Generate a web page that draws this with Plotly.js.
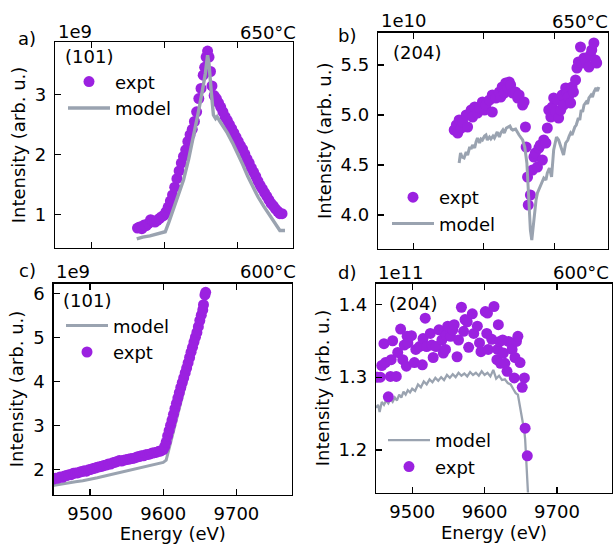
<!DOCTYPE html>
<html>
<head>
<meta charset="utf-8">
<script src="https://cdn.plot.ly/plotly-3.0.1.min.js"></script>
<style>html,body{margin:0;padding:0;background:#fff;}#chart{width:615px;height:544px;}</style>
</head>
<body>
<div id="chart"></div>
<script>
// ---------- data (intensities in units of the axis multiplier shown on each panel) ----------
// Panel a: (101), 650 C, x1e9
const aExptE = [9563,9566,9569,9572,9575,9578,9581,9584,9587,9590,9593,9596,9599,9602,9605,9608,9611,9614,9617,9620,9623,9626,9629,9632,9635,9638,9641,9644,9647,9650,9653,9655,9657,9659,9661,9663,9665,9668,9671,9674,9677,9680,9683,9686,9689,9692,9695,9698,9701,9704,9707,9710,9713,9716,9719,9722,9725,9728,9731,9734,9737,9740,9743,9746,9749,9752,9755,9758,9761];
const aExptI = [0.78,0.80,0.77,0.83,0.82,0.86,0.92,0.90,0.88,0.91,0.94,0.97,0.99,1.05,1.13,1.23,1.33,1.46,1.60,1.73,1.86,1.97,2.08,2.22,2.33,2.42,2.55,2.71,2.93,3.10,3.32,3.45,3.62,3.72,3.62,3.38,3.14,2.98,2.93,2.86,2.79,2.71,2.63,2.57,2.50,2.43,2.36,2.29,2.22,2.15,2.09,2.01,1.93,1.86,1.78,1.71,1.64,1.56,1.49,1.43,1.37,1.31,1.25,1.19,1.15,1.10,1.06,1.02,1.02];
const aModelE = [9562,9570,9580,9590,9598,9601,9606,9612,9619,9626,9633,9640,9646,9652,9656,9659,9661,9664,9667,9670,9672,9676,9681,9686,9693,9700,9707,9714,9721,9728,9736,9744,9752,9758,9765];
const aModelI = [0.60,0.63,0.65,0.68,0.70,0.72,0.88,1.08,1.32,1.58,1.92,2.30,2.68,3.07,3.35,3.65,3.50,3.05,2.66,2.60,2.63,2.55,2.46,2.36,2.20,2.03,1.84,1.64,1.46,1.30,1.14,1.00,0.86,0.74,0.74];

// Panel b: (204), 650 C, x1e10
const bExptE = [9558,9561,9563,9565,9568,9570,9575,9577,9582,9584,9587,9591,9594,9598,9601,9603,9608,9612,9612,9617,9622,9624,9626,9629,9631,9634,9636,9638,9641,9645,9648,9650,9655,9657,9659,9660,9662,9663,9666,9669,9671,9673,9676,9678,9680,9683,9685,9688,9690,9692,9695,9697,9699,9702,9704,9706,9709,9711,9713,9716,9718,9720,9723,9725,9727,9730,9732,9734,9737,9739,9742,9744,9749,9751,9753,9756,9758,9760];
const bExptI = [4.85,4.90,4.82,4.95,4.87,4.93,5.00,4.88,5.05,4.98,5.08,5.02,5.07,5.13,5.05,5.10,5.15,5.03,5.20,5.17,5.23,5.18,5.28,5.22,5.32,5.27,5.33,5.30,5.22,5.23,5.17,5.20,5.10,5.13,4.88,4.68,4.38,4.10,4.20,4.45,4.58,4.62,4.48,4.67,4.70,4.55,4.75,4.72,4.87,5.05,4.98,5.08,5.17,5.03,5.15,4.97,5.05,5.20,5.10,5.27,5.22,5.18,5.12,5.28,5.23,5.35,5.47,5.53,5.68,5.52,5.57,5.55,5.48,5.60,5.65,5.72,5.55,5.52];
const bModelE = [9565,9567,9569,9572,9575,9577,9580,9582,9584,9587,9589,9591,9594,9596,9598,9601,9603,9605,9608,9610,9613,9615,9617,9619,9622,9624,9627,9629,9632,9634,9637,9639,9641,9645,9648,9650,9653,9655,9658,9661,9664,9666,9668,9670,9672,9674,9676,9680,9683,9685,9688,9690,9693,9696,9699,9701,9703,9706,9708,9710,9713,9716,9719,9721,9723,9725,9727,9729,9731,9734,9736,9738,9740,9742,9745,9747,9749,9752,9754,9756,9759,9761,9763];
const bModelI = [4.52,4.62,4.58,4.57,4.63,4.60,4.68,4.66,4.70,4.67,4.73,4.77,4.72,4.76,4.75,4.79,4.80,4.75,4.78,4.76,4.79,4.77,4.80,4.83,4.78,4.82,4.85,4.82,4.87,4.88,4.89,4.86,4.85,4.86,4.82,4.80,4.77,4.75,4.68,4.52,4.12,3.85,3.75,3.88,4.08,4.15,4.22,4.28,4.33,4.37,4.35,4.42,4.47,4.38,4.65,4.72,4.78,4.75,4.70,4.67,4.60,4.72,4.75,4.79,4.82,4.80,4.85,4.88,4.90,4.97,4.95,5.05,5.03,5.10,5.13,5.11,5.17,5.20,5.18,5.23,5.27,5.24,5.28];

// Panel c: (101), 600 C, x1e9
const cExptE = [9444,9447,9450,9453,9456,9459,9462,9465,9468,9471,9474,9477,9480,9483,9486,9489,9492,9495,9498,9501,9504,9507,9510,9513,9516,9519,9522,9525,9528,9531,9534,9537,9540,9543,9546,9549,9552,9555,9558,9561,9564,9567,9570,9573,9576,9579,9582,9585,9588,9591,9594,9597,9600,9602,9604,9606,9608,9610,9612,9614,9616,9618,9620,9622,9624,9626,9628,9630,9632,9634,9636,9638,9640,9642,9644,9646,9648,9650,9652,9654,9655,9657,9658];
const cExptI = [1.75,1.77,1.78,1.80,1.80,1.83,1.82,1.85,1.86,1.88,1.88,1.91,1.92,1.92,1.94,1.95,1.97,1.96,1.99,2.00,2.02,2.03,2.05,2.06,2.07,2.09,2.10,2.12,2.12,2.15,2.16,2.18,2.20,2.19,2.21,2.22,2.23,2.24,2.25,2.26,2.28,2.29,2.31,2.31,2.33,2.34,2.35,2.37,2.38,2.39,2.41,2.42,2.45,2.52,2.62,2.76,2.88,3.00,3.12,3.25,3.38,3.50,3.62,3.74,3.86,3.97,4.08,4.19,4.30,4.42,4.54,4.66,4.77,4.89,5.00,5.11,5.24,5.38,5.50,5.62,5.74,5.96,6.02];
const cModelE = [9440,9450,9460,9470,9480,9490,9500,9510,9520,9530,9540,9550,9560,9570,9580,9590,9600,9604,9610,9620,9630,9640,9650,9657];
const cModelI = [1.61,1.64,1.67,1.69,1.72,1.74,1.77,1.81,1.85,1.89,1.92,1.96,2.00,2.04,2.08,2.12,2.16,2.21,2.60,3.25,3.90,4.56,5.22,5.68];

// Panel d: (204), 600 C, x1e11
const dExptE = [9452,9456,9458,9461,9463,9467,9470,9471,9473,9478,9480,9484,9487,9489,9492,9493,9494,9499,9503,9505,9510,9514,9515,9518,9520,9525,9527,9529,9533,9537,9541,9543,9546,9547,9549,9553,9556,9558,9562,9564,9568,9571,9573,9576,9578,9583,9585,9590,9593,9595,9601,9603,9604,9605,9610,9613,9617,9618,9619,9621,9622,9625,9626,9628,9631,9633,9637,9638,9641,9642,9644,9646,9649,9652,9655,9656,9659];
const dExptI = [1.300,1.300,1.316,1.346,1.320,1.273,1.301,1.324,1.350,1.301,1.334,1.366,1.324,1.344,1.315,1.356,1.347,1.357,1.320,1.338,1.342,1.317,1.353,1.381,1.342,1.360,1.344,1.327,1.342,1.365,1.351,1.333,1.338,1.358,1.370,1.356,1.365,1.372,1.328,1.351,1.396,1.363,1.379,1.376,1.341,1.387,1.360,1.370,1.347,1.335,1.390,1.360,1.388,1.338,1.352,1.397,1.324,1.338,1.372,1.349,1.319,1.351,1.333,1.319,1.308,1.349,1.347,1.338,1.299,1.327,1.349,1.356,1.320,1.286,1.299,1.230,1.192];
const dModelE = [9450,9453,9455,9458,9461,9464,9467,9470,9473,9476,9479,9482,9485,9488,9491,9494,9497,9500,9504,9508,9512,9516,9520,9524,9528,9532,9536,9540,9544,9548,9552,9556,9560,9564,9568,9572,9576,9580,9584,9588,9592,9596,9600,9604,9608,9612,9616,9620,9624,9628,9632,9636,9640,9643,9646,9648,9650,9652,9654,9655,9656,9657,9658,9659,9660];
const dModelI = [1.258,1.262,1.252,1.266,1.262,1.268,1.264,1.270,1.266,1.272,1.268,1.276,1.272,1.280,1.276,1.282,1.279,1.284,1.281,1.290,1.286,1.294,1.290,1.297,1.293,1.299,1.295,1.300,1.296,1.303,1.299,1.304,1.300,1.306,1.302,1.305,1.301,1.307,1.303,1.306,1.302,1.308,1.303,1.306,1.301,1.310,1.298,1.302,1.296,1.297,1.292,1.290,1.283,1.278,1.276,1.265,1.250,1.240,1.232,1.225,1.215,1.200,1.185,1.165,1.140];

// tick labels
const energyTicks = [9500, 9600, 9700];
const aTicks = [1, 2, 3];
const bTicks = [4.0, 4.5, 5.0, 5.5];
const cTicks = [2, 3, 4, 5, 6];
const dTicks = [1.2, 1.3, 1.4];
const panelLabels = ['a)', 'b)', 'c)', 'd)'];
const multipliers = ['1e9', '1e10', '1e9', '1e11'];
const temps = ['650°C', '650°C', '600°C', '600°C'];
const reflections = ['(101)', '(204)', '(101)', '(204)'];

// ---------- styling ----------
const W = 615, H = 544;
const FONT = 'DejaVu Sans, Liberation Sans, sans-serif';
const EXPT = '#9b21e0';
const MODEL = '#9aa3b0';
const fx = p => p / W;
const fy = p => 1 - p / H;

function exptTrace(x, y, xa, ya, leg) {
  return {x: x, y: y, xaxis: xa, yaxis: ya, type: 'scatter', mode: 'markers', name: 'expt',
    legend: leg, marker: {color: EXPT, size: 11, line: {width: 0}}};
}
function modelTrace(x, y, xa, ya, leg, w) {
  return {x: x, y: y, xaxis: xa, yaxis: ya, type: 'scatter', mode: 'lines', name: 'model',
    legend: leg, line: {color: MODEL, width: w}};
}

const data = [
  exptTrace(aExptE, aExptI, 'x', 'y', 'legend'),
  modelTrace(aModelE, aModelI, 'x', 'y', 'legend', 3.4),
  exptTrace(bExptE, bExptI, 'x2', 'y2', 'legend2'),
  modelTrace(bModelE, bModelI, 'x2', 'y2', 'legend2', 3),
  modelTrace(cModelE, cModelI, 'x3', 'y3', 'legend3', 3),
  exptTrace(cExptE, cExptI, 'x3', 'y3', 'legend3'),
  modelTrace(dModelE, dModelI, 'x4', 'y4', 'legend4', 2.3),
  exptTrace(dExptE, dExptI, 'x4', 'y4', 'legend4')
];

const tickFont = {family: FONT, size: 18, color: '#000'};
function xAxis(dom, anchor, labels) {
  return {domain: [fx(dom[0]), fx(dom[1])], anchor: anchor, range: [9450, 9776],
    tickvals: energyTicks, showticklabels: labels, ticks: 'inside', ticklen: 6, tickwidth: 1.2,
    tickcolor: '#000', showline: true, linecolor: '#000', linewidth: 1.3, mirror: 'ticks',
    showgrid: false, zeroline: false, tickfont: tickFont, ticklabelstandoff: 3, automargin: false,
    title: labels ? {text: 'Energy (eV)', font: tickFont, standoff: 4} : {text: ''}};
}
function yAxis(dom, anchor, range, ticks, fmt, standoff) {
  return {domain: [fy(dom[1]), fy(dom[0])], anchor: anchor, range: range,
    tickvals: ticks, tickformat: fmt, ticks: 'inside', ticklen: 6, tickwidth: 1.2,
    tickcolor: '#000', showline: true, linecolor: '#000', linewidth: 1.3, mirror: true,
    showgrid: false, zeroline: false, tickfont: tickFont, ticklabelstandoff: 4, automargin: false,
    title: {text: 'Intensity (arb. u.)', font: tickFont, standoff: standoff}};
}

// panel boxes in pixels: [left, right], [top, bottom]
const boxA = [[55, 293], [42, 248]];
const boxB = [[378, 608], [32.5, 249]];
const boxC = [[53.5, 292], [283.5, 494.5]];
const boxD = [[376, 612], [283.5, 492.5]];

function legendAt(px, py, title) {
  const l = {x: fx(px), y: fy(py), xanchor: 'left', yanchor: 'top', bgcolor: 'rgba(0,0,0,0)',
    borderwidth: 0, font: {family: FONT, size: 18, color: '#000'}, itemwidth: 42,
    tracegroupgap: 0, itemclick: false, itemdoubleclick: false};
  if (title) l.title = {text: title, font: {family: FONT, size: 18, color: '#000'}};
  return l;
}

function ann(text, px, py, xanchor) {
  return {text: text, x: fx(px), y: fy(py), xref: 'paper', yref: 'paper', xanchor: xanchor,
    yanchor: 'middle', showarrow: false, font: {family: FONT, size: 18, color: '#000'}};
}

const annotations = [
  ann(panelLabels[0], 27, 39, 'center'), ann(multipliers[0], 56, 31, 'left'), ann(temps[0], 298, 32, 'right'),
  ann(panelLabels[1], 347, 36, 'center'), ann(multipliers[1], 379, 21, 'left'), ann(temps[1], 610, 22, 'right'),
  ann(panelLabels[2], 27, 270, 'center'), ann(multipliers[2], 54, 271, 'left'), ann(temps[2], 298, 271, 'right'),
  ann(panelLabels[3], 347, 272, 'center'), ann(multipliers[3], 376, 272, 'left'), ann(temps[3], 611, 272, 'right'),
  ann(reflections[1], 391, 53, 'left'),
  ann(reflections[3], 387, 303, 'left')
];

const layout = {
  width: W, height: H, margin: {l: 0, r: 0, t: 0, b: 0},
  paper_bgcolor: '#fff', plot_bgcolor: '#fff', showlegend: true,
  font: {family: FONT, size: 18, color: '#000'},
  xaxis: xAxis(boxA[0], 'y', false),
  yaxis: yAxis(boxA[1], 'x', [0.45, 3.87], aTicks, '', 4),
  xaxis2: xAxis(boxB[0], 'y2', false),
  yaxis2: yAxis(boxB[1], 'x2', [3.66, 5.825], bTicks, '.1f', 4),
  xaxis3: xAxis(boxC[0], 'y3', true),
  yaxis3: yAxis(boxC[1], 'x3', [1.43, 6.22], cTicks, '', 4),
  xaxis4: xAxis(boxD[0], 'y4', true),
  yaxis4: yAxis(boxD[1], 'x4', [1.1416, 1.4286], dTicks, '.1f', 4),
  legend: legendAt(63, 40, reflections[0]),
  legend2: legendAt(387, 179, null),
  legend3: legendAt(61, 284, reflections[2]),
  legend4: legendAt(383, 422, null),
  annotations: annotations
};

Plotly.newPlot('chart', data, layout, {staticPlot: true, displayModeBar: false});
</script>
</body>
</html>
